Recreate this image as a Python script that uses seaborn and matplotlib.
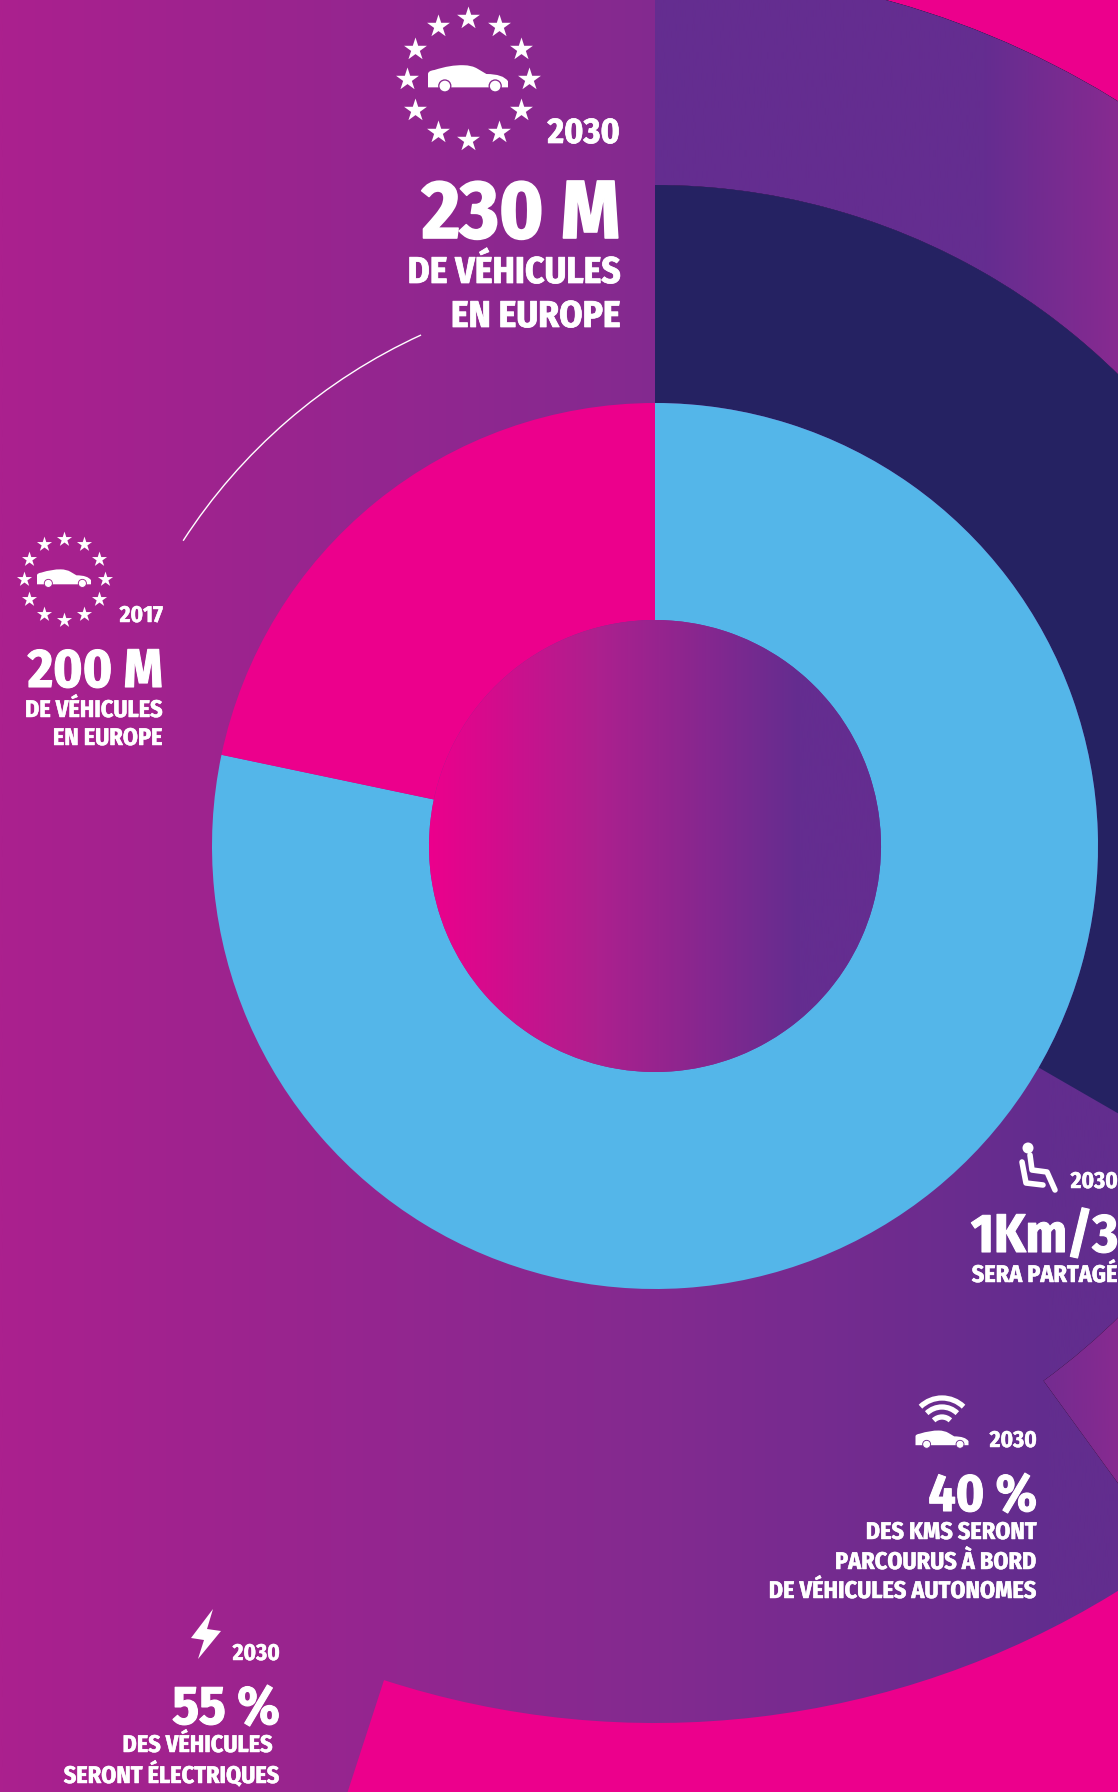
import numpy as np
import pandas as pd
import matplotlib
matplotlib.use("Agg")
import matplotlib.pyplot as plt
import matplotlib.patheffects as pe
from matplotlib.colors import LinearSegmentedColormap
from matplotlib.patches import Arc, Circle, PathPatch, Polygon
from matplotlib.path import Path
import seaborn as sns

# Ring shares, innermost ring first
fleet_share = [78.3, 21.7]
shared_share = [1, 2]
autonomous_share = [40, 60]
electric_share = [55, 45]

PINK = "#ec008c"
BLUE = "#54b6e9"
NAVY = "#252262"
WHITE = "#ffffff"
PURPLE = "#642d90"

W, H = 1118, 1792
CX, CY = 655, H - 846
R_HOLE, R_FLEET, R_SHARED, R_AUTO, R_ELEC = 226, 443, 661, 877, 1100

sns.set_theme(style="white")
plt.rcParams["font.family"] = ["Fira Sans Condensed", "Archivo Narrow", "Liberation Sans", "DejaVu Sans"]

fig = plt.figure(figsize=(W / 100, H / 100), dpi=100)
ax = fig.add_axes([0, 0, 1, 1])

BG = LinearSegmentedColormap.from_list("bg", [(0, "#ab208e"), (0.59, "#832a90"), (0.94, "#622d8e"), (1, "#622d8e")])
HOLE = LinearSegmentedColormap.from_list("hole", [(0, PINK), (0.37, "#ad208e"), (0.82, PURPLE), (1, PURPLE)])
WEDGE = LinearSegmentedColormap.from_list("wedge", [(0, PURPLE), (0.71, PURPLE), (1, "#872a90")])


def gradient(cmap, x0, x1, clip=None, z=1):
    img = ax.imshow(np.linspace(0, 1, 512)[None, :], cmap=cmap, aspect="auto",
                    extent=[x0, x1, 0, H], zorder=z, interpolation="bilinear")
    if clip is not None:
        img.set_clip_path(clip)
    return img


def ring(values, radius, inner, colors, z):
    wedges, _ = ax.pie(values, colors=colors, radius=radius, center=(CX, CY),
                       startangle=90, counterclock=False, frame=False,
                       wedgeprops={"width": radius - inner, "linewidth": 0, "zorder": z})
    for wedge in wedges:
        wedge.set_zorder(z)
    return wedges


gradient(BG, 0, W, z=0)
ring(electric_share, R_ELEC, R_AUTO, [PINK, "none"], 2)
auto = ring(autonomous_share, R_AUTO, R_SHARED, ["#000000", "none"], 2)
gradient(WEDGE, CX, W, clip=auto[0], z=3)
ring(shared_share, R_SHARED, R_FLEET, [NAVY, "none"], 4)
ring(fleet_share, R_FLEET, R_HOLE, [BLUE, PINK], 5)
hole = Circle((CX, CY), R_HOLE, facecolor="none", edgecolor="none", zorder=6)
ax.add_patch(hole)
gradient(HOLE, CX - R_HOLE, CX + R_HOLE, clip=hole, z=6)

# Leader arc concentric with the rings
ax.add_patch(Arc((CX, CY), 2 * 562, 2 * 562, theta1=114.6, theta2=147.1,
                 color=WHITE, lw=1.0, zorder=7))


def label(x, y, s, cap, ha="right"):
    """Right-aligned white text; y is the baseline from the top edge, cap the nominal cap height in px."""
    size = 1.07 * cap / 0.689 * 72 / 100
    t = ax.text(x, H - y, s, color=WHITE, fontsize=size, fontweight="bold", ha=ha,
                va="baseline", zorder=8)
    t.set_path_effects([pe.withStroke(linewidth=size * 0.02, foreground=WHITE)])
    return t


def car(cx, cy, w, wheel):
    """Saloon silhouette centred on (cx, cy), y measured from the top edge, width w."""
    verts = np.array([(-.5, -.117), (-.5, .05), (-.5, .09), (-.42, .10), (-.22, .165), (-.06, .16),
                      (.05, .16), (.12, .115), (.23, .05), (.44, .05), (.5, -.04), (.5, -.117), (-.5, -.117)])
    codes = [Path.MOVETO, Path.LINETO, Path.CURVE3, Path.CURVE3, Path.CURVE3, Path.CURVE3,
             Path.CURVE3, Path.CURVE3, Path.LINETO, Path.CURVE3, Path.CURVE3, Path.LINETO, Path.CLOSEPOLY]
    pts = verts * w + (cx, H - cy)
    ax.add_patch(PathPatch(Path(pts, codes), facecolor=WHITE, edgecolor="none", zorder=8))
    for wx in (-.29, .34):
        ax.add_patch(Circle((cx + wx * w, H - cy - .10 * w), .075 * w, facecolor=WHITE,
                            edgecolor=wheel, lw=w * 0.012, zorder=9))


def star_ring(cx, cy, radius, size):
    angles = np.deg2rad(np.arange(0, 360, 30))
    stars = pd.DataFrame({"x": cx + radius * np.cos(angles), "y": H - cy + radius * np.sin(angles)})
    sns.scatterplot(data=stars, x="x", y="y", marker="*", s=size, color=WHITE,
                    linewidth=0, ax=ax, zorder=8, legend=False)


# Europe 2030 block
star_ring(468, 79, 61, 300)
car(468, 78, 80, "#8a2a90")
label(620, 143, "2030", 23)
label(620, 238, "230 M", 53)
label(620, 283, "DE VÉHICULES", 24)
label(620, 327, "EN EUROPE", 24)

# Europe 2017 block
star_ring(64, 579, 40.5, 130)
car(64, 578, 54, "#a0238e")
label(163, 622, "2017", 15)
label(163, 687, "200 M", 35)
label(163, 717, "DE VÉHICULES", 15.5)
label(163, 745, "EN EUROPE", 15.5)

# Shared mobility block
ax.add_patch(Circle((1028, H - 1148), 5.5, facecolor=WHITE, edgecolor="none", zorder=8))
for xs, ys in [((1022, 1026, 1043), (1162, 1183, 1185)), ((1030, 1032, 1047, 1055), (1155, 1170, 1172, 1190))]:
    ax.plot(xs, [H - v for v in ys], color=WHITE, lw=4.0, solid_capstyle="round",
            solid_joinstyle="round", zorder=8)
label(1118, 1188, "2030", 15)
label(1118, 1252, "1Km/3", 35)
label(1118, 1282, "SERA PARTAGÉ", 15.5)

# Autonomous driving block
for r in (31, 22, 12):
    ax.add_patch(Arc((942, H - 1429), 2 * r, 2 * r, theta1=46, theta2=134, color=WHITE, lw=3.8, zorder=8))
car(942, 1439, 53, "#6e2b8f")
label(1037, 1447, "2030", 15)
label(1037, 1511, "40 %", 34)
label(1037, 1539, "DES KMS SERONT", 15.5)
label(1037, 1569, "PARCOURUS À BORD", 15.5)
label(1037, 1598, "DE VÉHICULES AUTONOMES", 15.5)

# Electric vehicles block
bolt = [(213, 1609), (207, 1629), (221, 1631), (198, 1659), (204, 1640), (191, 1638)]
ax.add_patch(Polygon([(x, H - y) for x, y in bolt], closed=True, facecolor=WHITE, edgecolor="none", zorder=8))
label(280, 1660, "2030", 15)
label(280, 1724, "55 %", 35)
label(273, 1752, "DES VÉHICULES", 15.5)
label(280, 1783, "SERONT ÉLECTRIQUES", 15.5)

ax.set_xlim(0, W)
ax.set_ylim(0, H)
ax.set_aspect("equal")
ax.axis("off")
fig.savefig("out.png", dpi=100)
